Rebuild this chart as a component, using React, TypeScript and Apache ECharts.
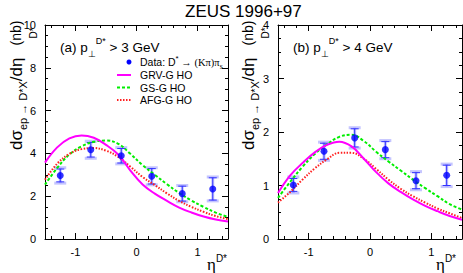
import React, { useEffect, useRef } from "react";
import * as echarts from "echarts";

// ---- data ----
const etaBins = [-1.25, -0.75, -0.25, 0.25, 0.75, 1.25];
const dataA = [2.97, 4.17, 3.89, 2.93, 2.12, 2.34];
const statA = [0.3, 0.34, 0.34, 0.36, 0.35, 0.52];
const totA = [0.36, 0.4, 0.38, 0.4, 0.38, 0.56];
const dataB = [1.01, 1.64, 1.89, 1.67, 1.09, 1.19];
const statB = [0.12, 0.15, 0.17, 0.15, 0.15, 0.19];
const totB = [0.15, 0.17, 0.19, 0.17, 0.17, 0.21];

const etaCurve = [-1.5, -1.3, -1.1, -0.9, -0.7, -0.5, -0.3, -0.1, 0.1, 0.3, 0.5, 0.7, 0.9, 1.1, 1.3, 1.5];
const grvA = [3.57, 4.28, 4.7, 4.84, 4.73, 4.4, 3.95, 3.2, 2.55, 2.12, 1.78, 1.47, 1.24, 1.05, 0.91, 0.82];
const gsA = [2.54, 3.32, 3.95, 4.33, 4.54, 4.6, 4.45, 3.98, 3.45, 3.0, 2.56, 2.15, 1.8, 1.5, 1.23, 1.03];
const afgA = [2.77, 3.52, 3.98, 4.2, 4.25, 4.13, 3.84, 3.38, 2.9, 2.52, 2.13, 1.78, 1.5, 1.27, 1.07, 0.93];
const grvB = [0.86, 1.19, 1.42, 1.62, 1.76, 1.82, 1.73, 1.5, 1.25, 1.04, 0.88, 0.74, 0.62, 0.52, 0.43, 0.36];
const gsB = [0.77, 1.07, 1.35, 1.59, 1.77, 1.91, 1.95, 1.83, 1.63, 1.45, 1.28, 1.11, 0.95, 0.8, 0.65, 0.55];
const afgB = [0.68, 0.88, 1.11, 1.32, 1.49, 1.61, 1.61, 1.5, 1.31, 1.11, 0.94, 0.8, 0.68, 0.57, 0.48, 0.39];

const xMajor = [-1, 0, 1];
const xMinor = [-1.4, -1.2, -0.8, -0.6, -0.4, -0.2, 0.2, 0.4, 0.6, 0.8, 1.2, 1.4];

const FONT = "Liberation Sans";
const BLACK = "#000";

function xAxes(grid: number) {
  const base = {
    gridIndex: grid,
    type: "value",
    min: -1.5,
    max: 1.5,
    splitLine: { show: false },
  };
  const line = { show: true, onZero: false, lineStyle: { color: BLACK, width: 1 } };
  const noLine = { show: false, onZero: false };
  const major = { show: true, inside: true, length: 6, customValues: xMajor, lineStyle: { color: BLACK } };
  const minor = { show: true, inside: true, length: 3, customValues: xMinor, lineStyle: { color: BLACK } };
  return [
    {
      ...base,
      position: "bottom",
      axisLine: line,
      axisTick: major,
      axisLabel: { show: true, customValues: xMajor, color: BLACK, fontSize: 11, fontFamily: FONT, margin: 7 },
    },
    { ...base, position: "bottom", axisLine: noLine, axisTick: minor, axisLabel: { show: false } },
    { ...base, position: "top", axisLine: line, axisTick: major, axisLabel: { show: false } },
    { ...base, position: "top", axisLine: noLine, axisTick: minor, axisLabel: { show: false } },
  ];
}

function yAxes(grid: number, max: number, interval: number) {
  const base = {
    gridIndex: grid,
    type: "value",
    min: 0,
    max,
    interval,
    splitLine: { show: false },
    axisLine: { show: true, onZero: false, lineStyle: { color: BLACK, width: 1 } },
    axisTick: { show: true, inside: true, length: 6, lineStyle: { color: BLACK } },
    minorTick: { show: true, splitNumber: 4, length: 3, lineStyle: { color: BLACK } },
  };
  return [
    { ...base, position: "left", axisLabel: { show: true, color: BLACK, fontSize: 11, fontFamily: FONT, margin: 9 } },
    { ...base, position: "right", axisLabel: { show: false } },
  ];
}

function curve(vals: number[]) {
  return etaCurve.map((x, i) => [x, vals[i]]);
}

function panelSeries(xi: number, yi: number, grv: number[], gs: number[], afg: number[], d: number[], st: number[], tot: number[]) {
  const common = { type: "line", xAxisIndex: xi, yAxisIndex: yi, showSymbol: false, symbol: "none", smooth: 0.4, silent: true };
  return [
    { ...common, name: "GS-G HO", data: curve(gs), lineStyle: { color: "#00ee00", width: 2, type: [3, 2] } },
    { ...common, name: "AFG-G HO", data: curve(afg), lineStyle: { color: "#ff2020", width: 2, type: [1.5, 1.5] } },
    { ...common, name: "GRV-G HO", data: curve(grv), lineStyle: { color: "#ff00ff", width: 2 } },
    {
      type: "custom",
      xAxisIndex: xi,
      yAxisIndex: yi,
      silent: true,
      data: etaBins.map((x, i) => [x, d[i], st[i], tot[i]]),
      renderItem: (params: any, api: any) => {
        const x = api.value(0);
        const y = api.value(1);
        const s = api.value(2);
        const t = api.value(3);
        const tTop = api.coord([x, y + t]);
        const tBot = api.coord([x, y - t]);
        const sTop = api.coord([x, y + s]);
        const sBot = api.coord([x, y - s]);
        const cx = tTop[0];
        const light = "rgba(110,110,255,0.4)";
        const blue = "#3030ff";
        return {
          type: "group",
          children: [
            { type: "rect", shape: { x: cx - 1.5, y: tTop[1], width: 3, height: tBot[1] - tTop[1] }, style: { fill: light } },
            { type: "rect", shape: { x: cx - 6, y: tTop[1] - 1.5, width: 12, height: 3 }, style: { fill: light } },
            { type: "rect", shape: { x: cx - 6, y: tBot[1] - 1.5, width: 12, height: 3 }, style: { fill: light } },
            { type: "line", shape: { x1: cx, y1: sTop[1], x2: cx, y2: sBot[1] }, style: { stroke: blue, lineWidth: 1 } },
            { type: "line", shape: { x1: cx - 4, y1: sTop[1], x2: cx + 4, y2: sTop[1] }, style: { stroke: blue, lineWidth: 1 } },
            { type: "line", shape: { x1: cx - 4, y1: sBot[1], x2: cx + 4, y2: sBot[1] }, style: { stroke: blue, lineWidth: 1 } },
          ],
        };
      },
      z: 3,
    },
    {
      type: "scatter",
      name: "Data",
      xAxisIndex: xi,
      yAxisIndex: yi,
      data: etaBins.map((x, i) => [x, d[i]]),
      symbol: "circle",
      symbolSize: 7,
      itemStyle: { color: "#0000ff" },
      silent: true,
      z: 4,
    },
  ];
}

function txt(x: number, y: number, text: string, rich: any, extra: any = {}) {
  return {
    type: "text",
    x,
    y,
    silent: true,
    ...extra,
    style: {
      text,
      rich,
      align: extra.align || "left",
      textAlign: extra.align || "left",
      verticalAlign: "middle",
      textVerticalAlign: "middle",
      fill: BLACK,
      fontFamily: FONT,
    },
  };
}

export default function App() {
  const ref = useRef<HTMLDivElement>(null);
  useEffect(() => {
    if (!ref.current) return;
    const chart = echarts.init(ref.current, undefined, { renderer: "svg" });

    const panelRich = {
      m: { fontSize: 13.5, fontFamily: FONT, fill: BLACK, lineHeight: 22 },
      sub: { fontSize: 9, fontFamily: FONT, fill: BLACK, verticalAlign: "bottom" },
      sup: { fontSize: 9, fontFamily: FONT, fill: BLACK, verticalAlign: "top" },
    };
    const legRich = {
      m: { fontSize: 10.5, fontFamily: FONT, fill: BLACK, lineHeight: 16 },
      s: { fontSize: 10.5, fontFamily: "Liberation Serif", fill: BLACK, lineHeight: 16 },
      sub: { fontSize: 8, fontFamily: "Liberation Serif", fill: BLACK, verticalAlign: "bottom" },
      sup: { fontSize: 8, fontFamily: FONT, fill: BLACK, verticalAlign: "top" },
    };
    const yRich = {
      m: { fontSize: 17, fontFamily: FONT, fill: BLACK, lineHeight: 24 },
      sub: { fontSize: 11, fontFamily: FONT, fill: BLACK, verticalAlign: "bottom" },
    };
    const smallRich = { s: { fontSize: 10, fontFamily: FONT, fill: BLACK } };
    const nbRich = { s: { fontSize: 14, fontFamily: FONT, fill: BLACK } };
    const xRich = {
      m: { fontSize: 17, fontFamily: "Liberation Serif", fill: BLACK, lineHeight: 22 },
      sup: { fontSize: 10, fontFamily: FONT, fill: BLACK, verticalAlign: "top" },
    };
    const yTitle = "{m|dσ}{sub|ep → D*X}{m|/dη}";
    const rot = { rotation: Math.PI / 2 };

    const legendRows = [
      { y: 75, color: "#ff00ff", type: "solid", label: "GRV-G HO" },
      { y: 87.5, color: "#00ee00", type: [3, 2], label: "GS-G HO" },
      { y: 100, color: "#ff2020", type: [1.5, 1.5], label: "AFG-G HO" },
    ];

    const yTitleAt = (x: number) => [
      txt(x, 150, yTitle, yRich, rot),
      txt(x + 17, 33, "{s|D*}", smallRich, { ...rot, align: "center" }),
      txt(x, 33, "{s|(nb)}", nbRich, { ...rot, align: "center" }),
    ];

    const graphic: any[] = [
      txt(185, 11, "{t|ZEUS 1996+97}", { t: { fontSize: 17, fontFamily: FONT, fill: BLACK } }),
      txt(60, 47, "{m|(a) p}{sub|⊥}{sup|D*}{m| > 3 GeV}", panelRich),
      txt(293, 47, "{m|(b) p}{sub|⊥}{sup|D*}{m| > 4 GeV}", panelRich),
      { type: "circle", shape: { cx: 129, cy: 62, r: 2.5 }, style: { fill: "#0000ff" }, silent: true },
      txt(140, 62, "{m|Data: D}{sup|*}{s| → (Kπ)π}{sub|s}", legRich),
      ...legendRows.flatMap((r) => [
        {
          type: "line",
          shape: { x1: 117, y1: r.y, x2: 131, y2: r.y },
          style: { stroke: r.color, lineWidth: 2, lineDash: r.type === "solid" ? null : r.type },
          silent: true,
        },
        txt(140, r.y, `{m|${r.label}}`, legRich),
      ]),
      ...yTitleAt(16),
      ...yTitleAt(248),
      txt(207, 264, "{m|η}{sup|D*}", xRich),
      txt(436, 264, "{m|η}{sup|D*}", xRich),
    ];

    chart.setOption({
      animation: false,
      backgroundColor: "#fff",
      textStyle: { fontFamily: FONT },
      grid: [
        { left: 45, top: 25, width: 183, height: 214 },
        { left: 278, top: 25, width: 184, height: 214 },
      ],
      xAxis: [...xAxes(0), ...xAxes(1)],
      yAxis: [...yAxes(0, 10, 2), ...yAxes(1, 4, 1)],
      series: [
        ...panelSeries(0, 0, grvA, gsA, afgA, dataA, statA, totA),
        ...panelSeries(4, 2, grvB, gsB, afgB, dataB, statB, totB),
      ],
      graphic,
    });
    return () => chart.dispose();
  }, []);
  return (
    <div
      ref={ref}
      style={{ position: "fixed", left: 0, top: 0, width: "463px", height: "273px", background: "#fff" }}
    />
  );
}
